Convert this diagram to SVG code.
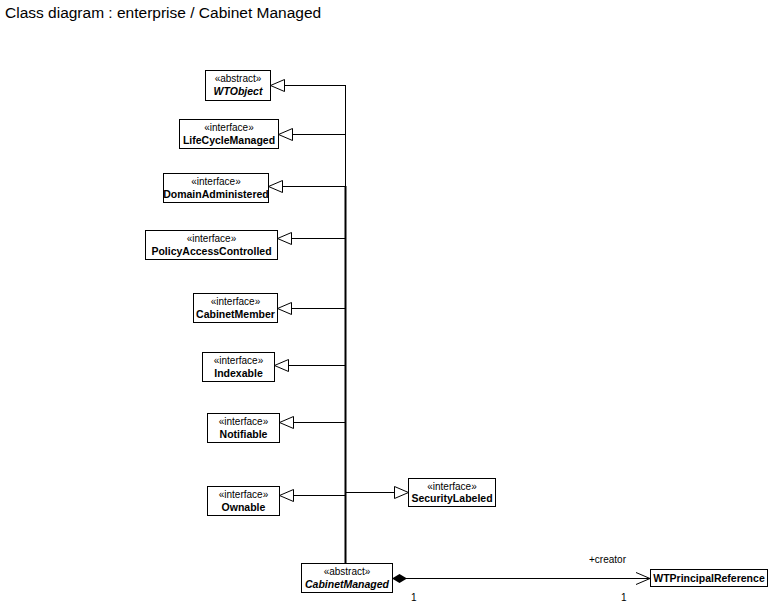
<svg xmlns="http://www.w3.org/2000/svg" width="769" height="604" viewBox="0 0 769 604">
<style>
.box{fill:#fff;stroke:#000;stroke-width:1}
.st{font-family:"Liberation Sans",Arial,sans-serif;font-size:10px;text-anchor:middle;fill:#000}
.nm{font-family:"Liberation Sans",Arial,sans-serif;font-size:10.5px;font-weight:bold;text-anchor:middle;fill:#000}
.it{font-style:italic}
.ln{stroke:#000;stroke-width:1;fill:none}
.tri{fill:#fff;stroke:#000;stroke-width:1}
.lbl{font-family:"Liberation Sans",Arial,sans-serif;font-size:10px;fill:#000}
</style>
<rect width="769" height="604" fill="#fff"/>
<text x="5" y="18" font-family="Liberation Sans, Arial, sans-serif" font-size="15.5">Class diagram : enterprise / Cabinet Managed</text>

<g id="connectors">
<line class="ln" x1="345.5" y1="85" x2="345.5" y2="186" stroke="#555"/>
<line x1="345.5" y1="186" x2="345.5" y2="563" stroke="#000" stroke-width="2"/>
<path class="ln" d="M284 85.5H345.5M292 134.5H345.5M282 186.5H345.5M291 238.5H345.5M291 308.5H345.5M288 365.5H345.5M293 422.5H345.5M293 495.5H345.5M345.5 492.5H395"/>
<polygon class="tri" points="270.5,85.5 284.5,79.5 284.5,91.5"/>
<polygon class="tri" points="278.5,134.5 292.5,128.5 292.5,140.5"/>
<polygon class="tri" points="268.5,186.5 282.5,180.5 282.5,192.5"/>
<polygon class="tri" points="277.5,238.5 291.5,232.5 291.5,244.5"/>
<polygon class="tri" points="277.5,308.5 291.5,302.5 291.5,314.5"/>
<polygon class="tri" points="274.5,365.5 288.5,359.5 288.5,371.5"/>
<polygon class="tri" points="279.5,422.5 293.5,416.5 293.5,428.5"/>
<polygon class="tri" points="279.5,495.5 293.5,489.5 293.5,501.5"/>
<polygon class="tri" points="408.5,492.5 394.5,486.5 394.5,498.5"/>
<path class="ln" d="M406 578.5H650M636 572.5L650 578.5L636 584.5"/>
<polygon points="392,578.5 399.5,574 407,578.5 399.5,583" fill="#000"/>
<text class="lbl" x="589" y="563">+creator</text>
<text class="lbl" x="411" y="601">1</text>
<text class="lbl" x="621" y="601">1</text>
</g>

<g id="WTObject"><rect class="box" x="205.5" y="70.5" width="65" height="30"/><text class="st" x="238" y="82">«abstract»</text><text class="nm it" x="238" y="95">WTObject</text></g>
<g id="LifeCycleManaged"><rect class="box" x="179.5" y="119.5" width="99" height="29"/><text class="st" x="229" y="131">«interface»</text><text class="nm" x="229" y="144">LifeCycleManaged</text></g>
<g id="DomainAdministered"><rect class="box" x="163.5" y="173.5" width="105" height="29"/><text class="st" x="216" y="185">«interface»</text><text class="nm" x="216" y="198">DomainAdministered</text></g>
<g id="PolicyAccessControlled"><rect class="box" x="145.5" y="230.5" width="132" height="29"/><text class="st" x="211.5" y="242">«interface»</text><text class="nm" x="211.5" y="255">PolicyAccessControlled</text></g>
<g id="CabinetMember"><rect class="box" x="193.5" y="293.5" width="84" height="29"/><text class="st" x="235.5" y="305">«interface»</text><text class="nm" x="235.5" y="318">CabinetMember</text></g>
<g id="Indexable"><rect class="box" x="202.5" y="352.5" width="72" height="29"/><text class="st" x="238.5" y="364">«interface»</text><text class="nm" x="238.5" y="377">Indexable</text></g>
<g id="Notifiable"><rect class="box" x="207.5" y="413.5" width="72" height="29"/><text class="st" x="243.5" y="425">«interface»</text><text class="nm" x="243.5" y="438">Notifiable</text></g>
<g id="Ownable"><rect class="box" x="207.5" y="486.5" width="72" height="29"/><text class="st" x="243.5" y="498">«interface»</text><text class="nm" x="243.5" y="511">Ownable</text></g>
<g id="SecurityLabeled"><rect class="box" x="408.5" y="478.5" width="87" height="28"/><text class="st" x="452" y="490">«interface»</text><text class="nm" x="452" y="502">SecurityLabeled</text></g>
<g id="CabinetManaged"><rect class="box" x="301.5" y="563.5" width="91" height="29"/><text class="st" x="347" y="575">«abstract»</text><text class="nm it" x="347" y="588">CabinetManaged</text></g>
<g id="WTPrincipalReference"><rect class="box" x="650.5" y="569.5" width="117" height="17"/><text class="nm" x="709" y="582">WTPrincipalReference</text></g>
</svg>
